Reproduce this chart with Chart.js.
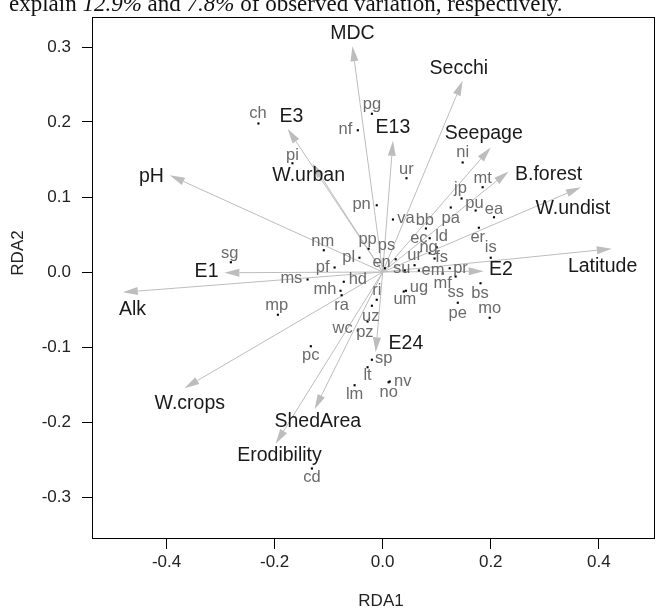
<!DOCTYPE html>
<html lang="en">
<head>
  <meta charset="UTF-8">
  <title>RDA biplot</title>
  <script src="https://cdn.jsdelivr.net/npm/chart.js"></script>
  <style>
    body {
      margin: 0;
      background: #fff;
    }
    canvas {
      display: block;
    }
  </style>
</head>
<body>

<canvas id="rda" width="668" height="613"></canvas>

<script>
// axis ticks
const xTicks = [-0.4, -0.2, 0.0, 0.2, 0.4];
const yTicks = [-0.3, -0.2, -0.1, 0.0, 0.1, 0.2, 0.3];

// environmental vectors / centroids (arrow tips and where their labels sit)
const envNames = ['MDC', 'Secchi', 'Seepage', 'B.forest', 'W.undist', 'Latitude', 'E2', 'E3', 'W.urban',
  'E13', 'pH', 'E1', 'Alk', 'W.crops', 'ShedArea', 'Erodibility', 'E24'];
const envX = [-0.056, 0.148, 0.200, 0.233, 0.367, 0.424, 0.187, -0.176, -0.130,
  0.019, -0.394, -0.293, -0.481, -0.367, -0.126, -0.198, -0.013];
const envY = [0.301, 0.255, 0.166, 0.134, 0.113, 0.031, 0.001, 0.191, 0.145,
  0.175, 0.129, -0.001, -0.027, -0.155, -0.183, -0.229, -0.107];
const envLabelX = [-0.056, 0.141, 0.187, 0.307, 0.352, 0.407, 0.219, -0.169, -0.137,
  0.019, -0.428, -0.326, -0.463, -0.357, -0.120, -0.191, 0.043];
const envLabelY = [0.318, 0.271, 0.185, 0.130, 0.085, 0.007, 0.003, 0.207, 0.129,
  0.193, 0.127, 0.000, -0.050, -0.175, -0.199, -0.245, -0.095];

// site scores
const siteNames = ['ch', 'pg', 'nf', 'pi', 'ur', 'pn', 'va', 'bb', 'pa', 'ni', 'mt', 'jp', 'pu', 'ea', 'er', 'is',
  'ec', 'ld', 'ng', 'fs', 'ps', 'ur', 'su', 'en', 'em', 'pr', 'mf', 'ss', 'bs', 'pe', 'mo', 'ug', 'um',
  'nm', 'pp', 'pl', 'pf', 'ms', 'hd', 'mh', 'ra', 'ri', 'uz', 'wc', 'pz', 'mp', 'pc', 'sp', 'lt', 'lm',
  'no', 'nv', 'cd', 'sg'];
const siteX = [-0.230, -0.020, -0.046, -0.167, 0.044, -0.011, 0.019, 0.080, 0.126, 0.148, 0.185, 0.146, 0.172, 0.206, 0.178, 0.200,
  0.087, 0.100, 0.087, 0.096, 0.024, 0.059, 0.041, 0.004, 0.067, 0.124, 0.111, 0.135, 0.181, 0.139, 0.198, 0.043, 0.039,
  -0.109, -0.026, -0.043, -0.089, -0.139, -0.072, -0.078, -0.076, -0.011, -0.020, -0.046, -0.028, -0.194, -0.133, -0.020, -0.028, -0.052,
  0.011, 0.013, -0.131, -0.281];
const siteY = [0.198, 0.211, 0.189, 0.145, 0.125, 0.089, 0.070, 0.058, 0.086, 0.146, 0.113, 0.098, 0.082, 0.073, 0.059, 0.019,
  0.045, 0.033, 0.025, 0.018, 0.017, 0.009, 0.002, 0.005, 0.002, 0.005, -0.002, -0.006, -0.015, -0.041, -0.061, -0.025, -0.026,
  0.029, 0.031, 0.019, 0.006, -0.010, -0.013, -0.025, -0.031, -0.037, -0.045, -0.078, -0.066, -0.057, -0.099, -0.117, -0.127, -0.151,
  -0.147, -0.146, -0.262, 0.013];
const siteLabelX = [-0.231, -0.020, -0.069, -0.167, 0.044, -0.039, 0.043, 0.078, 0.126, 0.148, 0.185, 0.144, 0.170, 0.206, 0.176, 0.200,
  0.067, 0.109, 0.085, 0.109, 0.007, 0.059, 0.035, -0.002, 0.093, 0.144, 0.111, 0.135, 0.180, 0.139, 0.198, 0.067, 0.041,
  -0.111, -0.028, -0.063, -0.111, -0.169, -0.046, -0.107, -0.076, -0.011, -0.022, -0.074, -0.033, -0.196, -0.133, 0.002, -0.028, -0.052,
  0.011, 0.037, -0.131, -0.283];
const siteLabelY = [0.211, 0.223, 0.190, 0.155, 0.137, 0.090, 0.071, 0.069, 0.071, 0.159, 0.125, 0.111, 0.091, 0.083, 0.046, 0.033,
  0.045, 0.047, 0.033, 0.019, 0.035, 0.022, 0.005, 0.013, 0.002, 0.005, -0.015, -0.027, -0.029, -0.055, -0.049, -0.021, -0.037,
  0.041, 0.043, 0.019, 0.006, -0.009, -0.010, -0.023, -0.045, -0.025, -0.059, -0.075, -0.081, -0.045, -0.111, -0.115, -0.138, -0.163,
  -0.161, -0.146, -0.274, 0.025];

const FONT = '"Liberation Sans", Arial, Helvetica, sans-serif';
const ARROW = '#bdbdbd';

// arrows, labels, box and the cut-off caption line
const biplotLayer = {
  id: 'biplotLayer',
  beforeDatasetsDraw(chart) {
    const { ctx, scales: { x, y } } = chart;
    const ox = x.getPixelForValue(0);
    const oy = y.getPixelForValue(0);
    ctx.save();
    ctx.strokeStyle = ARROW;
    ctx.fillStyle = ARROW;
    ctx.lineWidth = 1;
    for (let i = 0; i < envNames.length; i++) {
      const tx = x.getPixelForValue(envX[i]);
      const ty = y.getPixelForValue(envY[i]);
      const ang = Math.atan2(ty - oy, tx - ox);
      const len = 15, half = 4;
      const bx = tx - len * Math.cos(ang);
      const by = ty - len * Math.sin(ang);
      ctx.beginPath();
      ctx.moveTo(ox, oy);
      ctx.lineTo(bx, by);
      ctx.stroke();
      ctx.beginPath();
      ctx.moveTo(tx, ty);
      ctx.lineTo(bx + half * Math.sin(ang), by - half * Math.cos(ang));
      ctx.lineTo(bx - half * Math.sin(ang), by + half * Math.cos(ang));
      ctx.closePath();
      ctx.fill();
    }
    ctx.restore();
  },
  afterDatasetsDraw(chart) {
    const { ctx, scales: { x, y } } = chart;
    ctx.save();
    ctx.textAlign = 'center';
    ctx.textBaseline = 'middle';
    ctx.fillStyle = '#6b6b6b';
    ctx.font = '16.5px ' + FONT;
    siteNames.forEach((s, i) => {
      ctx.fillText(s, x.getPixelForValue(siteLabelX[i]), y.getPixelForValue(siteLabelY[i]));
    });
    ctx.fillStyle = '#1a1a1a';
    ctx.font = '19.5px ' + FONT;
    envNames.forEach((s, i) => {
      ctx.fillText(s, x.getPixelForValue(envLabelX[i]), y.getPixelForValue(envLabelY[i]));
    });
    ctx.restore();
  },
  afterDraw(chart) {
    const { ctx, chartArea: a } = chart;
    ctx.save();
    ctx.strokeStyle = '#000';
    ctx.lineWidth = 1;
    ctx.strokeRect(Math.round(a.left) + 0.5, Math.round(a.top) + 0.5,
      Math.round(a.right - a.left) - 1, Math.round(a.bottom - a.top) - 1);

    // axis titles
    ctx.fillStyle = '#222';
    ctx.font = '17px ' + FONT;
    ctx.textAlign = 'center';
    ctx.textBaseline = 'middle';
    ctx.fillText('RDA1', 381, 601);
    ctx.translate(18, 253);
    ctx.rotate(-Math.PI / 2);
    ctx.fillText('RDA2', 0, 0);
    ctx.restore();

    // caption line from the page above, cut at the top
    ctx.save();
    ctx.fillStyle = '#111';
    ctx.textBaseline = 'alphabetic';
    const parts = [['explain ', false], ['12.9%', true], [' and ', false], ['7.8%', true],
      [' of observed variation, respectively.', false]];
    let cx = 9;
    parts.forEach(([t, it]) => {
      ctx.font = (it ? 'italic ' : '') + '23px "Liberation Serif", "Times New Roman", serif';
      ctx.fillText(t, cx, 10.5);
      cx += ctx.measureText(t).width;
    });
    ctx.restore();
  }
};

const noPad = s => { s.paddingTop = 0; s.paddingBottom = 0; s.paddingLeft = 0; s.paddingRight = 0; };

const axisBase = {
  type: 'linear',
  grid: { display: true, drawOnChartArea: false, drawTicks: true, tickLength: 10, color: '#000', lineWidth: 1 },
  border: { display: false },
};

new Chart(document.getElementById('rda'), {
  type: 'scatter',
  data: {
    datasets: [{
      data: siteX.map((v, i) => ({ x: v, y: siteY[i] })),
      pointStyle: 'rect',
      radius: 1.5,
      borderWidth: 0,
      backgroundColor: '#000'
    }]
  },
  options: {
    responsive: false,
    animation: false,
    layout: { padding: { top: 17, right: 13, left: 0, bottom: 0 } },
    plugins: { legend: { display: false }, tooltip: { enabled: false } },
    scales: {
      x: {
        ...axisBase,
        min: -0.538, max: 0.504,
        afterBuildTicks: s => { s.ticks = xTicks.map(v => ({ value: v })); },
        afterFit: s => { s.height = 74; noPad(s); },
        ticks: { color: '#222', font: { size: 17, family: FONT }, padding: 3, maxRotation: 0, autoSkip: false,
          callback: v => v.toFixed(1) }
      },
      y: {
        ...axisBase,
        min: -0.356, max: 0.340,
        afterBuildTicks: s => { s.ticks = yTicks.map(v => ({ value: v })); },
        afterFit: s => { s.width = 92; noPad(s); },
        ticks: { color: '#222', font: { size: 17, family: FONT }, padding: 11, autoSkip: false,
          callback: v => v.toFixed(1) }
      }
    }
  },
  plugins: [biplotLayer]
});
</script>

</body>
</html>
